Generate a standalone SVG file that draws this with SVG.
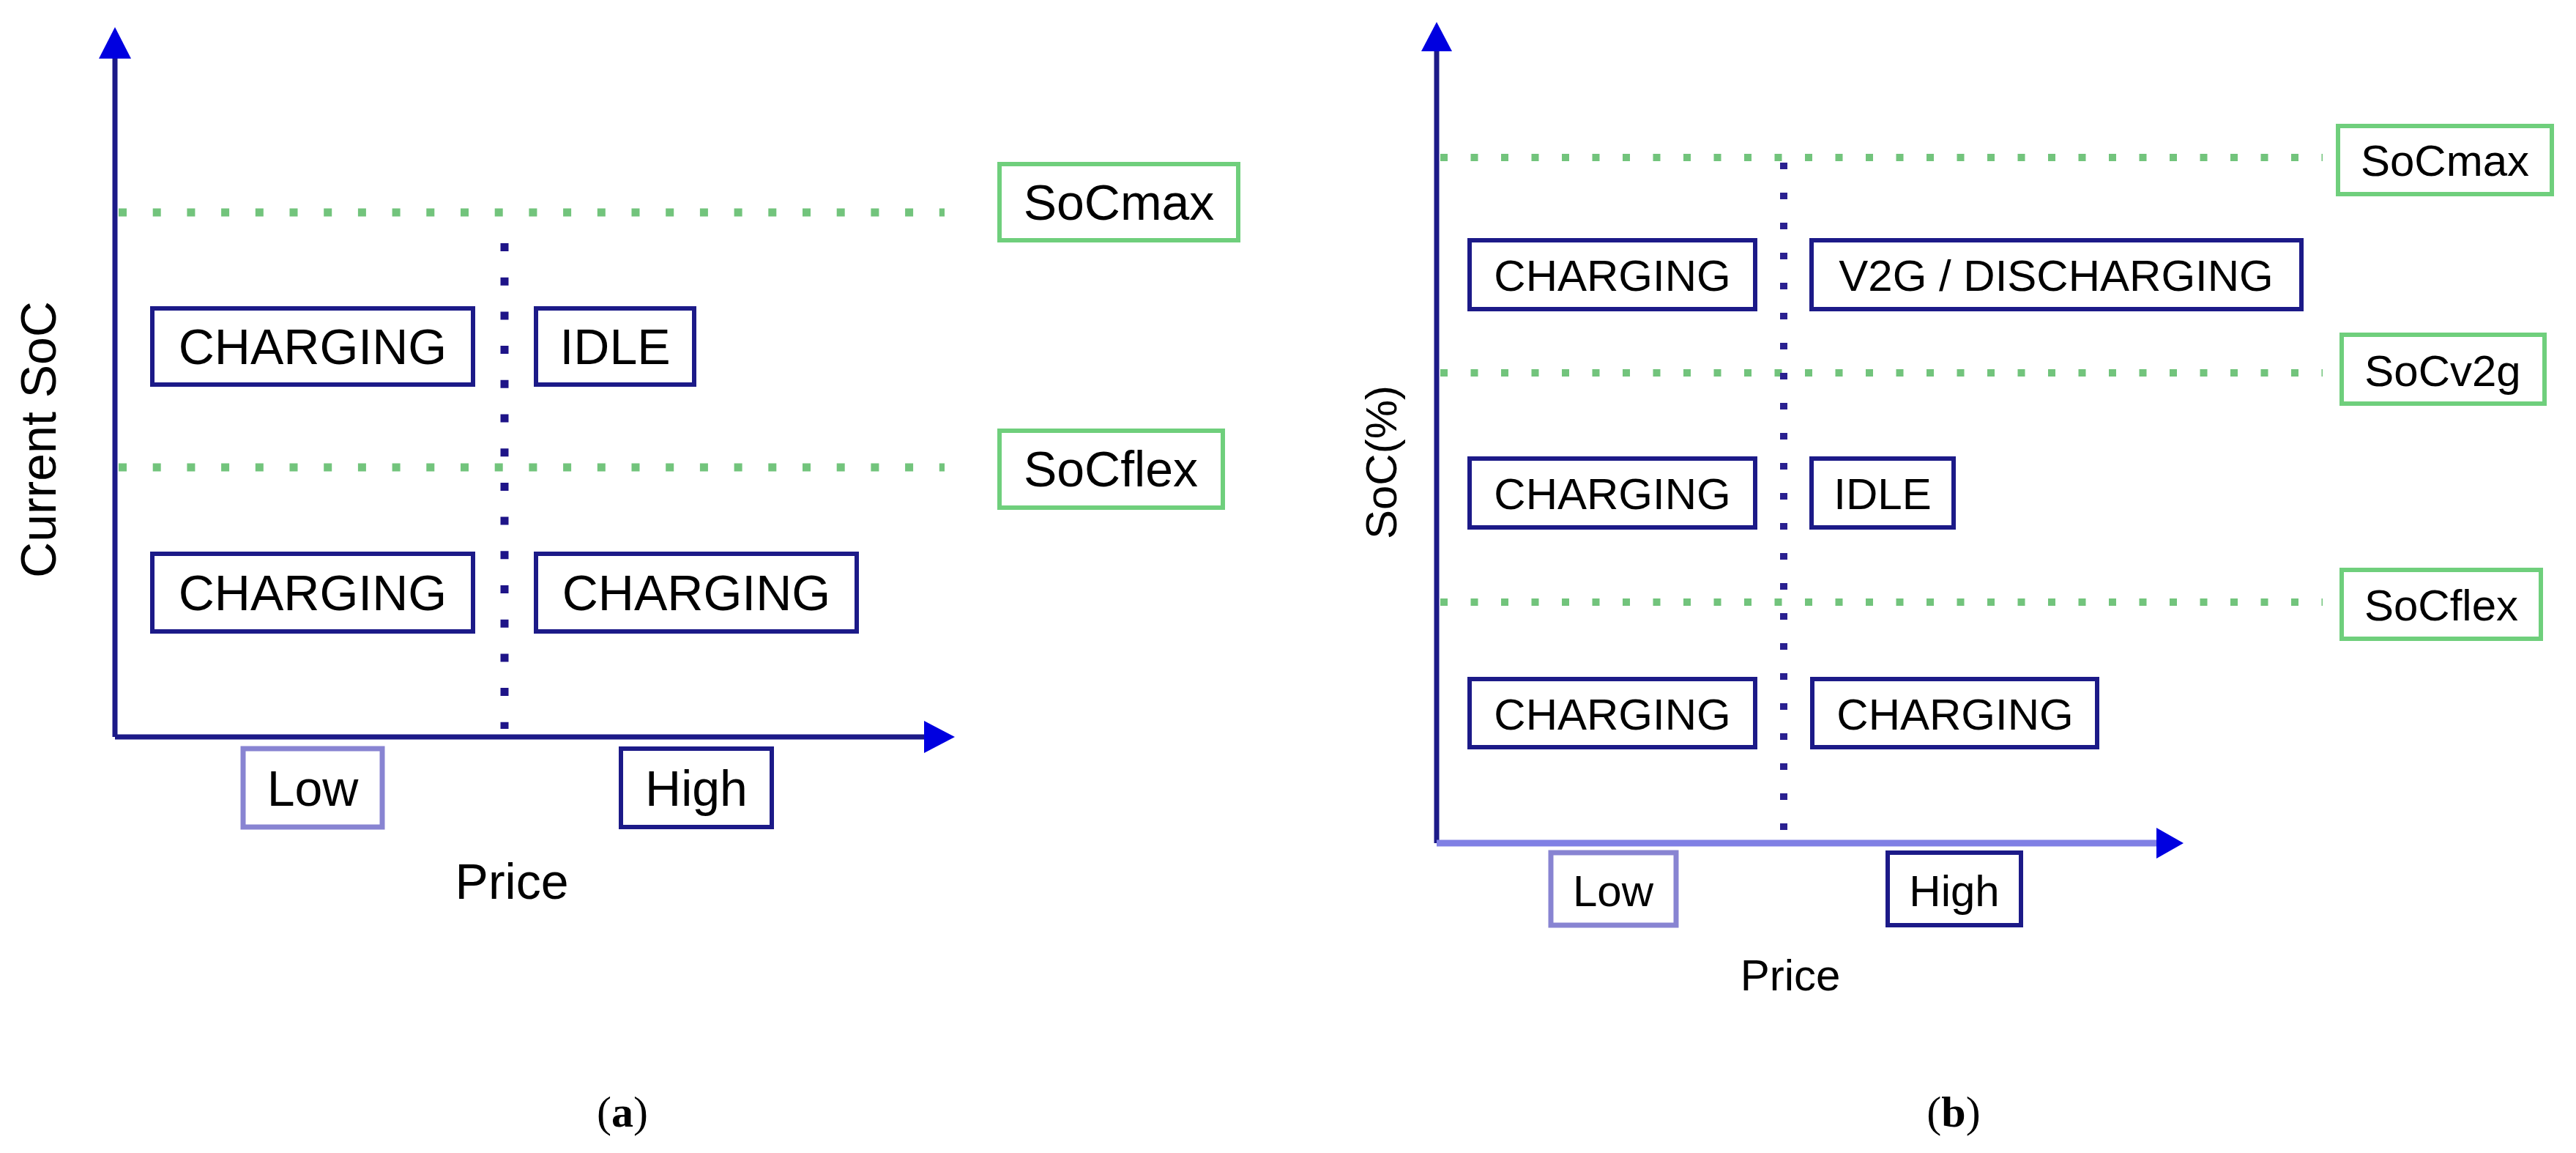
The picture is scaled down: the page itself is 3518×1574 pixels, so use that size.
<svg xmlns="http://www.w3.org/2000/svg" width="3518" height="1574" viewBox="0 0 3518 1574">
<style>
.t{font-family:"Liberation Sans",Arial,sans-serif;fill:#000;text-anchor:middle}
.a{font-size:68px}.b{font-size:60px}
.box{fill:#fff;stroke:#1c1a88;stroke-width:6}
.lbox{fill:#fff;stroke:#8884d2;stroke-width:7}
.gbox{fill:#fff;stroke:#6fcf7c;stroke-width:6}
.axis{stroke:#1c1a88;stroke-width:7;fill:none}
.ga{stroke:#72c47c;stroke-width:11;stroke-dasharray:11 35.7;fill:none}
.gb{stroke:#72c47c;stroke-width:10;stroke-dasharray:10 31.5;fill:none}
.va{stroke:#1e1488;stroke-width:11;stroke-dasharray:11 35.7;fill:none}
.vb{stroke:#2a2090;stroke-width:10;stroke-dasharray:9 32;fill:none}
.cap{font-family:"Liberation Serif","Times New Roman",serif;font-size:60px;fill:#000;text-anchor:middle}
</style>
<g id="connectors">
<line class="ga" x1="162" y1="290" x2="1290" y2="290"/>
<line class="ga" x1="162" y1="638" x2="1290" y2="638"/>
<line class="va" x1="689" y1="332" x2="689" y2="995"/>
<line class="axis" x1="157" y1="1006" x2="157" y2="80"/>
<path d="M157,37 L135,80 L179,80 z" fill="#0000e0"/>
<line class="axis" x1="157" y1="1006" x2="1262" y2="1006"/>
<path d="M1304,1006 L1262,984 L1262,1028 z" fill="#0000e0"/>
<line class="gb" x1="1967" y1="215" x2="3172" y2="215"/>
<line class="gb" x1="1967" y1="509" x2="3172" y2="509"/>
<line class="gb" x1="1967" y1="822" x2="3172" y2="822"/>
<line class="vb" x1="2436" y1="222" x2="2436" y2="1140"/>
<line class="axis" x1="1962" y1="1151" x2="1962" y2="70"/>
<path d="M1962,30 L1941,70 L1983,70 z" fill="#0000e0"/>
<line x1="1962" y1="1151" x2="2945" y2="1151" stroke="#8080e4" stroke-width="9"/>
<path d="M2982,1151 L2945,1130 L2945,1172 z" fill="#0000e0"/>
</g>
<g id="a-ylabel"><text class="t a" transform="translate(76,600) rotate(-90)">Current SoC</text></g>
<g id="a-soc-max"><rect class="gbox" x="1365" y="224" width="326" height="104"/><text class="t a" x="1528" y="300">SoCmax</text></g>
<g id="a-soc-flex"><rect class="gbox" x="1365" y="588" width="305" height="105"/><text class="t a" x="1517" y="664">SoCflex</text></g>
<g id="a-charging-1"><rect class="box" x="208" y="421" width="438" height="104"/><text class="t a" x="427" y="497">CHARGING</text></g>
<g id="a-idle"><rect class="box" x="732" y="421" width="216" height="104"/><text class="t a" x="840" y="497">IDLE</text></g>
<g id="a-charging-2"><rect class="box" x="208" y="756" width="438" height="106"/><text class="t a" x="427" y="833">CHARGING</text></g>
<g id="a-charging-3"><rect class="box" x="732" y="756" width="438" height="106"/><text class="t a" x="951" y="833">CHARGING</text></g>
<g id="a-low"><rect class="lbox" x="332" y="1022" width="190" height="107"/><text class="t a" x="427" y="1100">Low</text></g>
<g id="a-high"><rect class="box" x="848" y="1022" width="206" height="107"/><text class="t a" x="951" y="1100">High</text></g>
<g id="a-price"><text class="t a" x="699" y="1227">Price</text></g>
<g id="b-ylabel"><text class="t b" transform="translate(1907,631) rotate(-90)">SoC(%)</text></g>
<g id="b-soc-max"><rect class="gbox" x="3193" y="172" width="292" height="93"/><text class="t b" x="3339" y="240">SoCmax</text></g>
<g id="b-soc-v2g"><rect class="gbox" x="3198" y="457" width="277" height="94"/><text class="t b" x="3336" y="527">SoCv2g</text></g>
<g id="b-soc-flex"><rect class="gbox" x="3198" y="778" width="272" height="94"/><text class="t b" x="3334" y="847">SoCflex</text></g>
<g id="b-charging-1"><rect class="box" x="2007" y="328" width="390" height="94"/><text class="t b" x="2202" y="397">CHARGING</text></g>
<g id="b-v2g"><rect class="box" x="2474" y="328" width="669" height="94"/><text class="t b" x="2808" y="397">V2G / DISCHARGING</text></g>
<g id="b-charging-2"><rect class="box" x="2007" y="626" width="390" height="94"/><text class="t b" x="2202" y="695">CHARGING</text></g>
<g id="b-idle"><rect class="box" x="2474" y="626" width="194" height="94"/><text class="t b" x="2571" y="695">IDLE</text></g>
<g id="b-charging-3"><rect class="box" x="2007" y="927" width="390" height="93"/><text class="t b" x="2202" y="996">CHARGING</text></g>
<g id="b-charging-4"><rect class="box" x="2475" y="927" width="389" height="93"/><text class="t b" x="2670" y="996">CHARGING</text></g>
<g id="b-low"><rect class="lbox" x="2118" y="1164" width="171" height="99"/><text class="t b" x="2203" y="1237">Low</text></g>
<g id="b-high"><rect class="box" x="2578" y="1164" width="182" height="99"/><text class="t b" x="2669" y="1237">High</text></g>
<g id="b-price"><text class="t b" x="2445" y="1352">Price</text></g>
<g id="captions">
<text class="cap" x="850" y="1538">(<tspan font-weight="bold">a</tspan>)</text>
<text class="cap" x="2668" y="1538">(<tspan font-weight="bold">b</tspan>)</text>
</g>
</svg>
